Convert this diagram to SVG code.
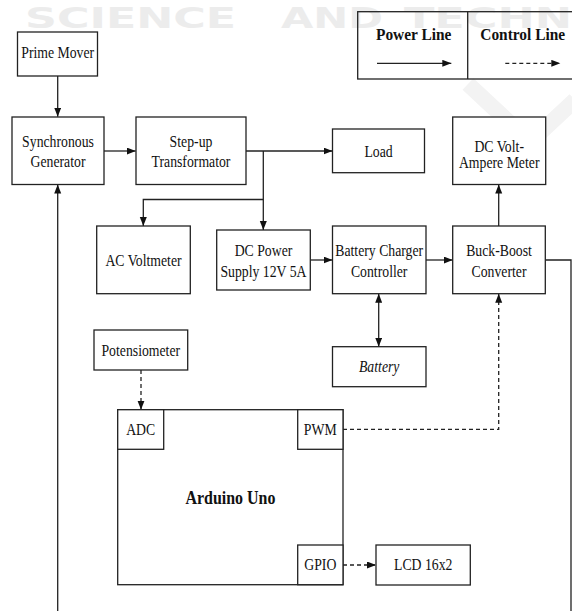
<svg xmlns="http://www.w3.org/2000/svg" width="572" height="611" viewBox="0 0 572 611">
<style>
.bx{fill:#fff;stroke:#222;stroke-width:1.3}
.pt{fill:none;stroke:#222;stroke-width:1.3}
.ln{fill:none;stroke:#222;stroke-width:1.3}
.ds{fill:none;stroke:#222;stroke-width:1.3;stroke-dasharray:4 3}
.t{font-family:"Liberation Serif","Times New Roman",serif;font-size:16px;fill:#111;text-anchor:middle}
.b{font-weight:bold}
.i{font-style:italic}
.wm{font-family:"DejaVu Sans",sans-serif;font-weight:bold;font-size:28px;fill:#ececec}
</style>
<defs>
<marker id="ah" markerUnits="userSpaceOnUse" markerWidth="10" markerHeight="8" refX="9" refY="3.5" orient="auto">
<path d="M0,0 L9,3.5 L0,7 z" fill="#111"/>
</marker>
<marker id="as" markerUnits="userSpaceOnUse" markerWidth="10" markerHeight="8" refX="0" refY="3.5" orient="auto">
<path d="M9,0 L0,3.5 L9,7 z" fill="#111"/>
</marker>
</defs>
<rect width="572" height="611" fill="#fff"/>
<g id="watermark">
<polyline points="468,84 530,142 575,100" fill="none" stroke="#f3f3f3" stroke-width="16"/>
<text class="wm" x="25" y="27.5" textLength="211" lengthAdjust="spacingAndGlyphs">SCIENCE</text>
<text class="wm" x="281" y="27.5" textLength="102" lengthAdjust="spacingAndGlyphs">AND</text>
<text class="wm" x="404" y="27.5" textLength="168" lengthAdjust="spacingAndGlyphs">TECHN</text>
</g>
<g id="legend">
<rect x="357.7" y="11.7" width="220" height="67.3" class="pt"/>
<line x1="467.7" y1="11.7" x2="467.7" y2="79" class="ln"/>
<text class="t b" transform="translate(413.7,40) scale(0.88,1)" style="font-size:17.5px">Power Line</text>
<text class="t b" transform="translate(522.7,40) scale(0.88,1)" style="font-size:17.5px">Control Line</text>
<line x1="377" y1="63.3" x2="451.3" y2="63.3" class="ln" marker-end="url(#ah)"/>
<line x1="505.3" y1="63.3" x2="560.3" y2="63.3" class="ds" marker-end="url(#ah)"/>
</g>
<g id="connectors">
<line x1="57.7" y1="76" x2="57.7" y2="116.7" class="ln" marker-end="url(#ah)"/>
<line x1="104" y1="151" x2="135.7" y2="151" class="ln" marker-end="url(#ah)"/>
<line x1="245.7" y1="151" x2="332.5" y2="151" class="ln" marker-end="url(#ah)"/>
<line x1="263.3" y1="151" x2="263.3" y2="230" class="ln" marker-end="url(#ah)"/>
<polyline points="263.3,199.5 143.3,199.5 143.3,226" class="ln" marker-end="url(#ah)"/>
<line x1="310.3" y1="260" x2="332.5" y2="260" class="ln" marker-end="url(#ah)"/>
<line x1="426" y1="260" x2="452.7" y2="260" class="ln" marker-end="url(#ah)"/>
<line x1="378.7" y1="293.7" x2="378.7" y2="346.7" class="ln" marker-start="url(#as)" marker-end="url(#ah)"/>
<line x1="498.7" y1="226" x2="498.7" y2="184.5" class="ln" marker-end="url(#ah)"/>
<polyline points="545.3,260 571,260 571,612" class="ln"/>
<line x1="57.7" y1="612" x2="57.7" y2="184.5" class="ln" marker-end="url(#ah)"/>
<line x1="141" y1="370" x2="141" y2="409.7" class="ds" marker-end="url(#ah)"/>
<polyline points="343,429.3 498.7,429.3 498.7,293.7" class="ds" marker-end="url(#ah)"/>
<line x1="343" y1="565" x2="376" y2="565" class="ds" marker-end="url(#ah)"/>
</g>
<g id="prime-mover">
<rect x="17.5" y="32" width="80" height="44" class="bx"/>
<text class="t" transform="translate(57.7,58.3) scale(0.86,1)">Prime Mover</text>
</g>
<g id="synchronous-generator">
<rect x="12" y="117" width="92" height="67.5" class="bx"/>
<text class="t" transform="translate(58,146.7) scale(0.86,1)">Synchronous</text>
<text class="t" transform="translate(58,167) scale(0.86,1)">Generator</text>
</g>
<g id="step-up-transformator">
<rect x="136" y="117" width="110" height="67.5" class="bx"/>
<text class="t" transform="translate(191,146.7) scale(0.86,1)">Step-up</text>
<text class="t" transform="translate(191,167) scale(0.86,1)">Transformator</text>
</g>
<g id="load">
<rect x="332.5" y="129" width="92" height="43.7" class="bx"/>
<text class="t" transform="translate(378.5,156.5) scale(0.86,1)">Load</text>
</g>
<g id="dc-volt-ampere-meter">
<rect x="452.7" y="117" width="93" height="67.5" class="bx"/>
<text class="t" transform="translate(499.2,151.5) scale(0.86,1)">DC Volt-</text>
<text class="t" transform="translate(499.2,168) scale(0.86,1)">Ampere Meter</text>
</g>
<g id="ac-voltmeter">
<rect x="96.7" y="226" width="93.6" height="67.7" class="bx"/>
<text class="t" transform="translate(143.5,266) scale(0.86,1)">AC Voltmeter</text>
</g>
<g id="dc-power-supply">
<rect x="216.7" y="230" width="93.6" height="60" class="bx"/>
<text class="t" transform="translate(263.5,255.7) scale(0.86,1)">DC Power</text>
<text class="t" transform="translate(263.5,276.7) scale(0.86,1)">Supply 12V 5A</text>
</g>
<g id="battery-charger-controller">
<rect x="332.5" y="226" width="93.5" height="67.7" class="bx"/>
<text class="t" transform="translate(379.2,255.7) scale(0.86,1)">Battery Charger</text>
<text class="t" transform="translate(379.2,276.7) scale(0.86,1)">Controller</text>
</g>
<g id="buck-boost-converter">
<rect x="452.7" y="226" width="92.6" height="67.7" class="bx"/>
<text class="t" transform="translate(499,255.7) scale(0.86,1)">Buck-Boost</text>
<text class="t" transform="translate(499,276.7) scale(0.86,1)">Converter</text>
</g>
<g id="battery">
<rect x="332.5" y="346.7" width="93.5" height="40" class="bx"/>
<text class="t i" transform="translate(379.2,371.7) scale(0.86,1)">Battery</text>
</g>
<g id="potensiometer">
<rect x="94" y="330" width="93.7" height="40" class="bx"/>
<text class="t" transform="translate(140.8,356) scale(0.86,1)">Potensiometer</text>
</g>
<g id="arduino-uno">
<rect x="117.7" y="409.7" width="225.3" height="175" class="bx"/>
<text class="t b" transform="translate(230.4,504) scale(0.84,1)" style="font-size:19px">Arduino Uno</text>
</g>
<g id="adc">
<rect x="117.7" y="409.7" width="46" height="39.6" class="bx"/>
<text class="t" transform="translate(140.7,435) scale(0.86,1)">ADC</text>
</g>
<g id="pwm">
<rect x="297.7" y="409.7" width="45.3" height="39.6" class="bx"/>
<text class="t" transform="translate(320.3,435) scale(0.86,1)">PWM</text>
</g>
<g id="gpio">
<rect x="297.7" y="545" width="45.3" height="39.7" class="bx"/>
<text class="t" transform="translate(320.3,570) scale(0.86,1)">GPIO</text>
</g>
<g id="lcd">
<rect x="376" y="545" width="94.3" height="40" class="bx"/>
<text class="t" transform="translate(423.2,570) scale(0.86,1)">LCD 16x2</text>
</g>
</svg>
